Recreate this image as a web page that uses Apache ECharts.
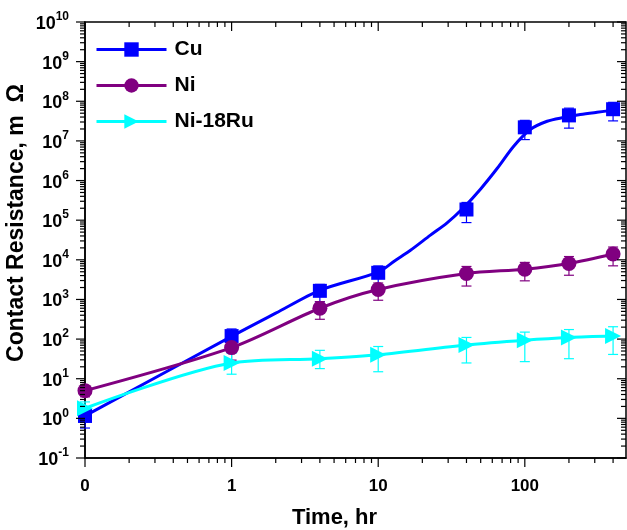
<!DOCTYPE html>
<html>
<head>
<meta charset="utf-8">
<script src="https://cdn.jsdelivr.net/npm/echarts@6/dist/echarts.min.js"></script>
<style>
  html, body { margin: 0; padding: 0; background: #fff; }
  #chart { width: 627px; height: 530px; }
</style>
</head>
<body>
<div id="chart"></div>
<script>
const FONT = '"Liberation Sans", Arial, Helvetica, sans-serif'
const X_MIN = 0.1 // the "0 hr" column sits on the axis origin
const X_MAX = 490
const Y_MIN = 0.1
const Y_MAX = 1e10

// tick label positions
const xLabelValues = [0.1, 1, 10, 100]
const xLabelText = ['0', '1', '10', '100']
const yLabelValues = [0.1, 1, 10, 100, 1e3, 1e4, 1e5, 1e6, 1e7, 1e8, 1e9, 1e10]
const yLabelExp = [-1, 0, 1, 2, 3, 4, 5, 6, 7, 8, 9, 10]

// measured times, hr
const timeHr = [0, 1, 4, 10, 40, 100, 200, 400]

// Cu
const cuValue = [1.15, 119, 1650, 4700, 1.86e5, 2.2e7, 4.4e7, 6.3e7]
const cuLow = [0.57, 58, 870, 2300, 8.7e4, 1.08e7, 2.1e7, 3.2e7]
const cuHigh = [1.6, 180, 2400, 7000, 2.8e5, 3.3e7, 6.7e7, 9.4e7]

// Ni
const niValue = [5.0, 61, 600, 1780, 4500, 5800, 8100, 14000]
const niLow = [3.5, 29.5, 316, 955, 2180, 2950, 4080, 7050]
const niHigh = [6.5, 92, 880, 2600, 6800, 8600, 12100, 21000]

// Ni-18Ru
const ruValue = [1.8, 25, 32, 40, 71, 94, 110, 119]
const ruLow = [1.1, 13, 18, 15, 25, 27, 32, 41]
const ruHigh = [2.6, 44, 52, 65, 110, 150, 174, 205]

// fitted curve drawn through the Cu data
const cuFitTime = [0, 1, 2, 4, 10, 13, 16.6, 22.7, 29.5, 38.3, 49.8, 64.7, 84, 109, 142, 184, 239, 311, 400]
const cuFitValue = [1.16, 117, 450, 1700, 4900, 9500, 17400, 41900, 85500, 2.09e5, 6.05e5, 2.01e6, 7.35e6, 1.94e7, 3.13e7, 3.89e7, 4.62e7, 5.28e7, 5.94e7]

const xPos = t => (t === 0 ? X_MIN : t)
const pairs = (ts, vs) => ts.map((t, i) => [xPos(t), vs[i]])
const bars = (lo, hi) => timeHr.map((t, i) => [xPos(t), lo[i], hi[i]])

const chart = echarts.init(document.getElementById('chart'), null, { renderer: 'canvas' })

// error bars with caps
function errorBarItem(params, api) {
  const x = api.value(0)
  const lo = api.coord([x, api.value(1)])
  const hi = api.coord([x, api.value(2)])
  const w = 5
  const style = { stroke: api.visual('color'), lineWidth: 1.2 }
  return {
    type: 'group',
    children: [
      { type: 'line', shape: { x1: lo[0], y1: lo[1], x2: hi[0], y2: hi[1] }, style },
      { type: 'line', shape: { x1: lo[0] - w, y1: lo[1], x2: lo[0] + w, y2: lo[1] }, style },
      { type: 'line', shape: { x1: hi[0] - w, y1: hi[1], x2: hi[0] + w, y2: hi[1] }, style }
    ]
  }
}

// log minor/major ticks on all four sides
const tickData = []
for (let e = -1; e <= 2; e++) {
  for (let m = 1; m <= 9; m++) {
    const v = m * Math.pow(10, e)
    if (v <= X_MAX) tickData.push([v, Y_MIN, m === 1 ? 1 : 0])
  }
}
for (let e = -1; e <= 10; e++) {
  for (let m = 1; m <= 9; m++) {
    const v = m * Math.pow(10, e)
    if (v <= Y_MAX * 1.0001) tickData.push([X_MIN, v, m === 1 ? 3 : 2])
  }
}
function tickItem(params, api) {
  const kind = api.value(2)
  const major = kind % 2 === 1
  const len = major ? 9 : 5
  const style = { stroke: '#000', lineWidth: 1.2 }
  let a, b
  if (kind < 2) {
    const bot = api.coord([api.value(0), Y_MIN])
    const top = api.coord([api.value(0), Y_MAX])
    a = { x1: bot[0], y1: bot[1], x2: bot[0], y2: bot[1] + len }
    b = { x1: top[0], y1: top[1], x2: top[0], y2: top[1] + len }
  } else {
    const l = api.coord([X_MIN, api.value(1)])
    const r = api.coord([X_MAX, api.value(1)])
    a = { x1: l[0] - len, y1: l[1], x2: l[0], y2: l[1] }
    b = { x1: r[0] - len, y1: r[1], x2: r[0], y2: r[1] }
  }
  return {
    type: 'group',
    children: [
      { type: 'line', shape: a, style },
      { type: 'line', shape: b, style }
    ]
  }
}

const colors = { cu: '#0000ff', ni: '#800080', ru: '#00ffff' }

function nearestIndex(arr, v) {
  let best = 0
  arr.forEach((a, i) => { if (Math.abs(Math.log10(a / v)) < Math.abs(Math.log10(arr[best] / v))) best = i })
  return best
}

const option = {
  animation: false,
  backgroundColor: '#fff',
  grid: {
    left: 85,
    right: 1,
    top: 22,
    bottom: 72,
    containLabel: false,
    outerBoundsMode: 'none',
    show: true,
    borderColor: '#000',
    borderWidth: 1.5
  },
  legend: {
    orient: 'vertical',
    left: 95,
    top: 39,
    padding: 0,
    itemWidth: 70,
    itemHeight: 18,
    itemGap: 15,
    data: ['Cu', 'Ni', 'Ni-18Ru'],
    lineStyle: { width: 3 },
    textStyle: { fontFamily: FONT, fontWeight: 'bold', fontSize: 21, color: '#000', lineHeight: 18, padding: [0, 0, 0, 3] }
  },
  xAxis: {
    type: 'log',
    logBase: 10,
    min: X_MIN,
    max: X_MAX,
    name: 'Time, hr',
    nameLocation: 'middle',
    nameGap: 49,
    nameMoveOverlap: false,
    nameTextStyle: { fontFamily: FONT, fontWeight: 'bold', fontSize: 22, color: '#000', padding: [0, 42, 0, 0] },
    axisLine: { show: true, lineStyle: { color: '#000', width: 1.5 } },
    axisTick: { show: false },
    splitLine: { show: false },
    axisLabel: {
      margin: 20,
      customValues: xLabelValues,
      fontFamily: FONT,
      fontWeight: 'bold',
      fontSize: 17,
      color: '#000',
      formatter: function (v) {
        return xLabelText[nearestIndex(xLabelValues, v)]
      }
    }
  },
  yAxis: {
    type: 'log',
    logBase: 10,
    min: Y_MIN,
    max: Y_MAX,
    name: 'Contact Resistance, m  Ω',
    nameLocation: 'middle',
    nameGap: 57,
    nameMoveOverlap: false,
    nameTextStyle: { fontFamily: FONT, fontWeight: 'bold', fontSize: 23, color: '#000', padding: [0, 0, 0, 34] },
    axisLine: { show: true, lineStyle: { color: '#000', width: 1.5 } },
    axisTick: { show: false },
    splitLine: { show: false },
    axisLabel: {
      margin: 16,
      customValues: yLabelValues,
      formatter: function (v) {
        return '{b|10}{s|' + yLabelExp[nearestIndex(yLabelValues, v)] + '}'
      },
      rich: {
        b: { fontFamily: FONT, fontWeight: 'bold', fontSize: 18, color: '#000', lineHeight: 22, verticalAlign: 'bottom' },
        s: { fontFamily: FONT, fontWeight: 'bold', fontSize: 12, color: '#000', lineHeight: 12, verticalAlign: 'top' }
      }
    }
  },
  series: [
    // curves
    {
      name: 'Cu fit', type: 'line', smooth: 0.3, symbol: 'none', z: 2, silent: true,
      lineStyle: { color: colors.cu, width: 3 },
      data: pairs(cuFitTime, cuFitValue)
    },
    {
      name: 'Ni fit', type: 'line', smooth: 0.3, symbol: 'none', z: 2, silent: true,
      lineStyle: { color: colors.ni, width: 3 },
      data: pairs(timeHr, niValue)
    },
    {
      name: 'Ni-18Ru fit', type: 'line', smooth: 0.3, symbol: 'none', z: 2, silent: true,
      lineStyle: { color: colors.ru, width: 3 },
      data: pairs(timeHr, ruValue)
    },
    // error bars
    { type: 'custom', z: 3, silent: true, itemStyle: { color: colors.cu }, renderItem: errorBarItem, data: bars(cuLow, cuHigh) },
    { type: 'custom', z: 3, silent: true, itemStyle: { color: colors.ni }, renderItem: errorBarItem, data: bars(niLow, niHigh) },
    { type: 'custom', z: 3, silent: true, itemStyle: { color: colors.ru }, renderItem: errorBarItem, data: bars(ruLow, ruHigh) },
    // markers
    {
      name: 'Cu', type: 'line', z: 4, symbol: 'rect', symbolSize: 14,
      itemStyle: { color: colors.cu }, lineStyle: { color: colors.cu, width: 0 },
      data: pairs(timeHr, cuValue)
    },
    {
      name: 'Ni', type: 'line', z: 4, symbol: 'circle', symbolSize: 15,
      itemStyle: { color: colors.ni }, lineStyle: { color: colors.ni, width: 0 },
      data: pairs(timeHr, niValue)
    },
    {
      name: 'Ni-18Ru', type: 'line', z: 4, symbol: 'triangle', symbolSize: 16, symbolRotate: -90,
      itemStyle: { color: colors.ru }, lineStyle: { color: colors.ru, width: 0 },
      data: pairs(timeHr, ruValue)
    },
    // axis ticks
    { type: 'custom', z: 5, silent: true, renderItem: tickItem, data: tickData }
  ]
}

chart.setOption(option)
</script>
</body>
</html>
